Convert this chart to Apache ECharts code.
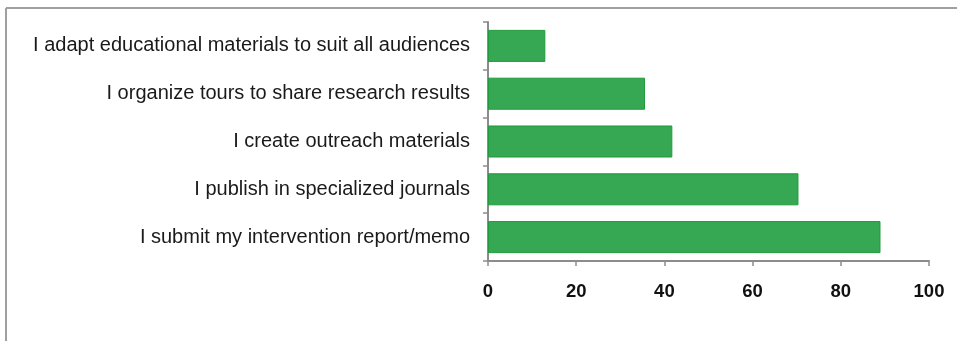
<!DOCTYPE html>
<html>
<head>
<meta charset="utf-8">
<script src="https://cdn.jsdelivr.net/npm/echarts@6/dist/echarts.min.js"></script>
<style>
html,body{margin:0;padding:0;background:#fff;}
#chart{width:957px;height:341px;}
</style>
</head>
<body>
<div id="chart"></div>
<script>
const categories = [
  "I submit my intervention report/memo",
  "I publish in specialized journals",
  "I create outreach materials",
  "I organize tours to share research results",
  "I adapt educational materials to suit all audiences"
];
const values = [89, 70.4, 41.8, 35.6, 13];
const xTicks = [0, 20, 40, 60, 80, 100];

const chart = echarts.init(document.getElementById('chart'), null, {renderer: 'canvas'});
chart.setOption({
  animation: false,
  backgroundColor: '#fff',
  graphic: [
    {type: 'line', shape: {x1: 6, y1: 8, x2: 957, y2: 8}, style: {stroke: '#a0a0a0', lineWidth: 2}},
    {type: 'line', shape: {x1: 6, y1: 8, x2: 6, y2: 341}, style: {stroke: '#a0a0a0', lineWidth: 2}}
  ],
  grid: {left: 488, right: 28, top: 22, bottom: 80, containLabel: false},
  xAxis: {
    type: 'value',
    min: xTicks[0],
    max: xTicks[xTicks.length - 1],
    interval: 20,
    splitLine: {show: false},
    axisLine: {show: true, lineStyle: {color: '#8c8c8c', width: 2}},
    axisTick: {show: true, inside: false, length: 5, lineStyle: {color: '#8c8c8c', width: 1.5}},
    axisLabel: {
      color: '#111', fontWeight: 'bold', fontSize: 18.5,
      fontFamily: 'Liberation Sans, Arial, sans-serif', margin: 21
    }
  },
  yAxis: {
    type: 'category',
    data: categories,
    axisLine: {show: true, lineStyle: {color: '#8c8c8c', width: 2}},
    axisTick: {show: true, length: 5, alignWithLabel: false, lineStyle: {color: '#8c8c8c', width: 1.5}},
    axisLabel: {
      color: '#1a1a1a', fontSize: 20,
      fontFamily: 'Liberation Sans, Arial, sans-serif', margin: 18
    }
  },
  series: [{
    type: 'bar',
    data: values,
    barCategoryGap: '33%',
    itemStyle: {color: '#36a853', borderColor: '#1f9a3c', borderWidth: 1}
  }]
});
</script>
</body>
</html>
